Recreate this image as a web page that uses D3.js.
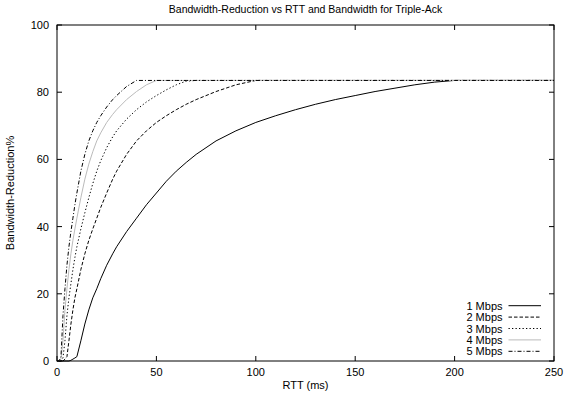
<!DOCTYPE html>
<html>
<head>
<meta charset="utf-8">
<script src="https://cdn.jsdelivr.net/npm/d3@7"></script>
<style>
  body { margin: 0; background: #fff; }
  svg { display: block; font-family: "Liberation Sans", Arial, sans-serif; }
</style>
</head>
<body>
<svg id="chart" width="564" height="396"></svg>
<script>
// ─── Data ──────────────────────────────────────────────────────────────────
const rtt = [0, 1, 2, 3, 4, 5, 6, 7, 8, 9, 10, 12, 14, 16, 18, 20, 22, 25, 28, 30,
  35, 40, 45, 50, 55, 60, 65, 70, 80, 90, 100, 110, 120, 130, 140, 150, 160, 170,
  180, 190, 200, 250];

const mbps1 = [0, 0, 0, 0, 0, 0, 0, 0.2, 0.55, 0.9, 1.3, 6, 11, 15.2, 18.8, 21.5, 24.5, 28.5, 31.9, 34,
  38.5, 42.5, 46.5, 50, 53.5, 56.5, 59.1, 61.5, 65.5, 68.5, 71, 73, 74.8, 76.4, 77.8, 79, 80.2, 81.2,
  82.2, 83, 83.5, 83.5];
const mbps2 = [0, 0, 0, 0, 0.55, 1.3, 6, 11, 15.2, 18.8, 21.5, 27.2, 31.9, 35.9, 39.3, 42.5, 45.7, 50, 54.1, 56.5,
  61.5, 65.5, 68.5, 71, 73, 74.8, 76.4, 77.8, 80.2, 82.2, 83.5, 83.5, 83.5, 83.5, 83.5, 83.5, 83.5, 83.5,
  83.5, 83.5, 83.5, 83.5];
const mbps3 = [0, 0, 0, 0.9, 6, 13.5, 18.8, 23, 27.2, 30.8, 34, 39.3, 44.1, 48.6, 52.8, 56.5, 59.6, 63.5, 66.7, 68.5,
  72, 74.8, 77.1, 79, 80.7, 82.2, 83.3, 83.5, 83.5, 83.5, 83.5, 83.5, 83.5, 83.5, 83.5, 83.5, 83.5, 83.5,
  83.5, 83.5, 83.5, 83.5];
const mbps4 = [0, 0, 0.55, 6, 15.2, 21.5, 27.2, 31.9, 35.9, 39.3, 42.5, 48.6, 54.1, 58.6, 62.3, 65.5, 67.9, 71, 73.4, 74.8,
  77.8, 80.2, 82.2, 83.5, 83.5, 83.5, 83.5, 83.5, 83.5, 83.5, 83.5, 83.5, 83.5, 83.5, 83.5, 83.5, 83.5, 83.5,
  83.5, 83.5, 83.5, 83.5];
const mbps5 = [0, 0, 1.3, 13.5, 21.5, 28.5, 34, 38.5, 42.5, 46.5, 50, 56.5, 61.5, 65.5, 68.5, 71, 73, 75.6, 77.8, 79,
  81.7, 83.5, 83.5, 83.5, 83.5, 83.5, 83.5, 83.5, 83.5, 83.5, 83.5, 83.5, 83.5, 83.5, 83.5, 83.5, 83.5, 83.5,
  83.5, 83.5, 83.5, 83.5];

const seriesNames = ["1 Mbps", "2 Mbps", "3 Mbps", "4 Mbps", "5 Mbps"];
const seriesValues = [mbps1, mbps2, mbps3, mbps4, mbps5];
const xTicks = [0, 50, 100, 150, 200, 250];
const yTicks = [0, 20, 40, 60, 80, 100];

// ─── Styles ────────────────────────────────────────────────────────────────
const STYLE = [
  { stroke: "#000",    dash: null },
  { stroke: "#000",    dash: "3.5,2" },
  { stroke: "#000",    dash: "1.3,2.2" },
  { stroke: "#bbbbbb", dash: null },
  { stroke: "#000",    dash: "4,2,1,2" },
];

// ─── Layout ────────────────────────────────────────────────────────────────
const W = 564, H = 396;
const M = { top: 25, right: 10, bottom: 35, left: 57 };
const TICK = 5;

const svg = d3.select("#chart");
const x = d3.scaleLinear().domain([0, 250]).range([M.left, W - M.right]);
const y = d3.scaleLinear().domain([0, 100]).range([H - M.bottom, M.top]);

// ticks, inward and mirrored
const tickG = svg.append("g").attr("stroke", "#000").attr("stroke-width", 1);
xTicks.forEach(t => {
  tickG.append("line").attr("x1", x(t)).attr("x2", x(t))
    .attr("y1", y(0)).attr("y2", y(0) - TICK);
  tickG.append("line").attr("x1", x(t)).attr("x2", x(t))
    .attr("y1", y(100)).attr("y2", y(100) + TICK);
});
yTicks.forEach(t => {
  tickG.append("line").attr("x1", x(0)).attr("x2", x(0) + TICK)
    .attr("y1", y(t)).attr("y2", y(t));
  tickG.append("line").attr("x1", x(250)).attr("x2", x(250) - TICK)
    .attr("y1", y(t)).attr("y2", y(t));
});

// tick labels
svg.append("g").selectAll("text").data(xTicks).join("text")
  .attr("x", d => x(d)).attr("y", y(0) + 15)
  .attr("text-anchor", "middle").attr("font-size", "11px").attr("fill", "#000")
  .text(d => d);
svg.append("g").selectAll("text").data(yTicks).join("text")
  .attr("x", x(0) - 8).attr("y", d => y(d) + 4)
  .attr("text-anchor", "end").attr("font-size", "11px").attr("fill", "#000")
  .text(d => d);

// ── Curves ────────────────────────────────────────────────────────────────
const line = d3.line().x(d => x(d[0])).y(d => y(d[1]));
seriesValues.forEach((vals, i) => {
  svg.append("path")
    .datum(rtt.map((r, j) => [r, vals[j]]))
    .attr("d", line)
    .attr("fill", "none")
    .attr("stroke", STYLE[i].stroke)
    .attr("stroke-width", 1)
    .attr("stroke-dasharray", STYLE[i].dash);
});

// frame
svg.append("rect")
  .attr("x", x(0)).attr("y", y(100))
  .attr("width", x(250) - x(0)).attr("height", y(0) - y(100))
  .attr("fill", "none").attr("stroke", "#000").attr("stroke-width", 1);

// ── Legend ────────────────────────────────────────────────────────────────
const legendG = svg.append("g");
seriesNames.forEach((name, i) => {
  const ly = 305.7 + i * 11.4;
  legendG.append("text").attr("x", 502.5).attr("y", ly + 4)
    .attr("text-anchor", "end").attr("font-size", "11px").attr("fill", "#000")
    .text(name);
  legendG.append("line").attr("x1", 508.5).attr("x2", 541).attr("y1", ly).attr("y2", ly)
    .attr("stroke", STYLE[i].stroke).attr("stroke-width", 1)
    .attr("stroke-dasharray", STYLE[i].dash);
});

// ── Titles ────────────────────────────────────────────────────────────────
svg.append("text").attr("x", (x(0) + x(250)) / 2).attr("y", 13)
  .attr("text-anchor", "middle").attr("font-size", "10.5px")
  .text("Bandwidth-Reduction vs RTT and Bandwidth for Triple-Ack");
svg.append("text").attr("x", (x(0) + x(250)) / 2).attr("y", 389)
  .attr("text-anchor", "middle").attr("font-size", "11px")
  .text("RTT (ms)");
svg.append("text")
  .attr("transform", `translate(14,${(y(0) + y(100)) / 2}) rotate(-90)`)
  .attr("text-anchor", "middle").attr("font-size", "11px")
  .text("Bandwidth-Reduction%");
</script>
</body>
</html>
